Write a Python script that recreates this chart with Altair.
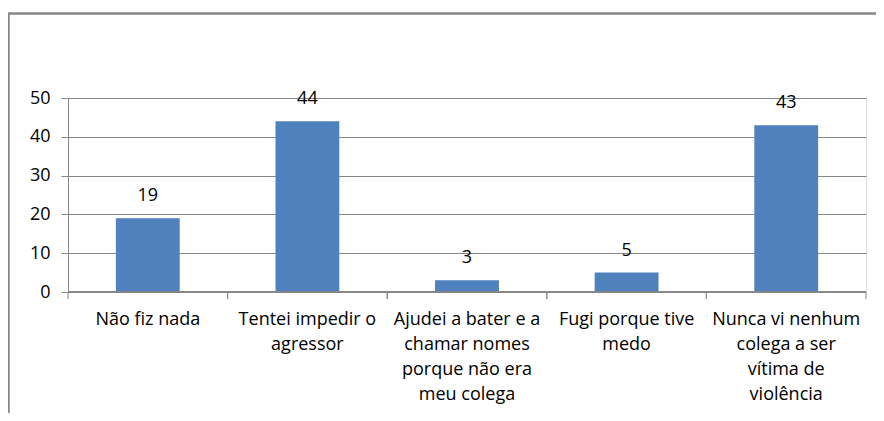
import altair as alt
import pandas as pd

categories = [
    "Não fiz nada",
    "Tentei impedir o\nagressor",
    "Ajudei a bater e a\nchamar nomes\nporque não era\nmeu colega",
    "Fugi porque tive\nmedo",
    "Nunca vi nenhum\ncolega a ser\nvítima de\nviolência",
]
values = [19, 44, 3, 5, 43]
y_ticks = [0, 10, 20, 30, 40, 50]

df = pd.DataFrame({"cat": categories, "val": values})

W, H = 798, 194
FONT = "Open Sans"
FS = 18
GRID = "#878787"

xscale = alt.Scale(domain=categories, paddingInner=0, paddingOuter=0)
yscale = alt.Scale(domain=[0, 50], nice=False)

x_axis = alt.Axis(labelAngle=0, ticks=False, domain=False, grid=False,
                  labelExpr="split(datum.label, '\\n')",
                  labelFont=FONT, labelFontSize=FS, labelColor="#000",
                  labelLineHeight=25, labelPadding=18, labelLimit=400,
                  labelBaseline="top", title=None)
y_axis = alt.Axis(values=y_ticks, grid=True, gridColor=GRID, gridWidth=1,
                  labelOverlap=False,
                  domain=True, domainColor=GRID, tickColor=GRID, tickSize=7,
                  labelFont=FONT, labelFontSize=FS, labelColor="#000",
                  labelPadding=11, title=None)

def X(bp=None):
    if bp is None:
        return alt.X("cat:N", scale=xscale, sort=categories, axis=x_axis, title=None)
    return alt.X("cat:N", scale=xscale, sort=categories, axis=x_axis, title=None, bandPosition=bp)

Y = alt.Y("val:Q", scale=yscale, axis=y_axis, title=None)

base = alt.Chart(df)

bars = base.mark_bar(color="#4F81BD", width=alt.RelativeBandSize(0.4)).encode(x=X(), y=Y)

labels = base.mark_text(font=FONT, fontSize=FS, color="#000", baseline="bottom", dy=-13).encode(
    x=X(), y=Y, text="val:Q",
)

xaxis_line = base.mark_rule(color=GRID, strokeWidth=1).encode(
    x=alt.value(0), x2=alt.value(W), y=alt.value(H)
)

ticks0 = base.mark_rule(color=GRID, strokeWidth=1).encode(
    x=X(0), y=alt.value(H), y2=alt.value(H + 7),
)
ticks1 = base.mark_rule(color=GRID, strokeWidth=1).encode(
    x=X(1), y=alt.value(H), y2=alt.value(H + 7),
)

frame = base.mark_rect(fill=None, stroke="#888888", strokeWidth=1.5).encode(
    x=alt.value(-59.5), x2=alt.value(W + 40), y=alt.value(-84.5), y2=alt.value(H + 200)
)

chart = alt.layer(bars, labels, xaxis_line, ticks0, ticks1, frame).properties(
    width=W, height=H,
    autosize=alt.AutoSizeParams(type="none"),
    padding={"left": 60, "top": 90, "right": 10, "bottom": 121},
).configure_view(strokeWidth=0, stroke="transparent").configure(background="white")

chart.save("out.html", embed_options={"renderer": "svg", "actions": False})
